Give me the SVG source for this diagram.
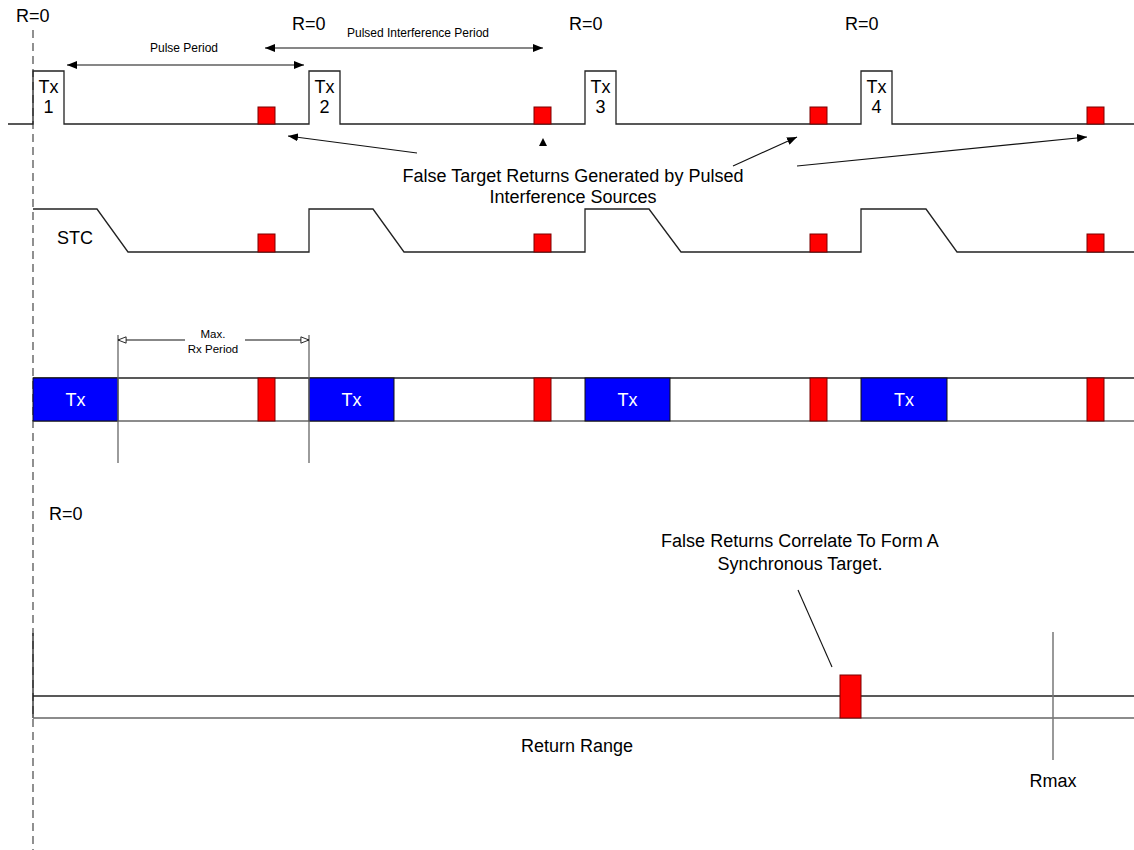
<svg xmlns="http://www.w3.org/2000/svg" width="1134" height="850" viewBox="0 0 1134 850">
<style>
text{font-family:"Liberation Sans",Arial,sans-serif;fill:#000}
.t16{font-size:18px}
.t11{font-size:12px}
.t10{font-size:11.5px}
.c{text-anchor:middle}
.ln{fill:none;stroke:#222;stroke-width:1.3}
.gr{fill:none;stroke:#666;stroke-width:1.3}
.red{fill:#ff0000;stroke:#7a0000;stroke-width:1}
.blue{fill:#0000ff;stroke:#111;stroke-width:1}
.wt{fill:#fff}
.ar{fill:none;stroke:#111;stroke-width:1.1}
</style>
<defs>
<marker id="ah" viewBox="0 0 10 8" refX="10" refY="4" markerWidth="10" markerHeight="8" markerUnits="userSpaceOnUse" orient="auto-start-reverse">
<path d="M0,0 L10,4 L0,8 Z" fill="#000"/>
</marker>
<marker id="oh" viewBox="0 0 10 8" refX="9.5" refY="4" markerWidth="9" markerHeight="8" markerUnits="userSpaceOnUse" orient="auto-start-reverse">
<path d="M0.5,0.5 L9.5,4 L0.5,7.5 Z" fill="#fff" stroke="#111" stroke-width="1"/>
</marker>
</defs>
<rect width="1134" height="850" fill="#fff"/>

<g id="r0-axis">
<line x1="33" y1="30" x2="33" y2="850" stroke="#555" stroke-width="1.3" stroke-dasharray="8,5"/>
</g>

<g id="tx-row">
<polyline class="ln" points="8,124 33,124 33,71 64,71 64,124 309,124 309,71 340,71 340,124 585,124 585,71 616,71 616,124 861,124 861,71 892,71 892,124 1134,124"/>
<text class="t16 c" x="48.5" y="92.5">Tx</text><text class="t16 c" x="48.5" y="113">1</text>
<text class="t16 c" x="324.5" y="92.5">Tx</text><text class="t16 c" x="324.5" y="113">2</text>
<text class="t16 c" x="600.5" y="92.5">Tx</text><text class="t16 c" x="600.5" y="113">3</text>
<text class="t16 c" x="876.5" y="92.5">Tx</text><text class="t16 c" x="876.5" y="113">4</text>
<rect class="red" x="258" y="107" width="17" height="17"/>
<rect class="red" x="534" y="107" width="17" height="17"/>
<rect class="red" x="810" y="107" width="17" height="17"/>
<rect class="red" x="1087" y="107" width="17" height="17"/>
</g>

<g id="r0-labels">
<text class="t16" x="16" y="22">R=0</text>
<text class="t16" x="292" y="30">R=0</text>
<text class="t16" x="569" y="30">R=0</text>
<text class="t16" x="845" y="30">R=0</text>
</g>

<g id="period-labels">
<text class="t11 c" x="184" y="52">Pulse Period</text>
<text class="t11 c" x="418" y="37">Pulsed Interference Period</text>
</g>

<g id="false-target-label">
<text class="t16 c" x="573" y="182">False Target Returns Generated by Pulsed</text>
<text class="t16 c" x="573" y="203">Interference Sources</text>
</g>

<g id="stc-row">
<polyline class="ln" points="33,209 97,209 128,252 309,252 309,209 373,209 404,252 585,252 585,209 649,209 681,252 861,252 861,209 926,209 957,252 1134,252"/>
<text class="t16" x="57" y="244">STC</text>
<rect class="red" x="258" y="234" width="17" height="18"/>
<rect class="red" x="534" y="234" width="17" height="18"/>
<rect class="red" x="810" y="234" width="17" height="18"/>
<rect class="red" x="1087" y="234" width="17" height="18"/>
</g>

<g id="rx-row">
<line class="ln" x1="33" y1="378" x2="1134" y2="378"/>
<line class="gr" x1="33" y1="421" x2="1134" y2="421"/>
<rect class="blue" x="33" y="378" width="85" height="43"/>
<rect class="blue" x="309" y="378" width="85" height="43"/>
<rect class="blue" x="585" y="378" width="85" height="43"/>
<rect class="blue" x="861" y="378" width="86" height="43"/>
<text class="t16 c wt" x="75.5" y="406">Tx</text>
<text class="t16 c wt" x="351.5" y="406">Tx</text>
<text class="t16 c wt" x="627.5" y="406">Tx</text>
<text class="t16 c wt" x="904" y="406">Tx</text>
<rect class="red" x="258" y="378" width="17" height="43"/>
<rect class="red" x="534" y="378" width="17" height="43"/>
<rect class="red" x="810" y="378" width="17" height="43"/>
<rect class="red" x="1087" y="378" width="17" height="43"/>
<line class="gr" x1="118" y1="335" x2="118" y2="463"/>
<line class="gr" x1="309" y1="335" x2="309" y2="463"/>
<text class="t10 c" x="213" y="338">Max.</text>
<text class="t10 c" x="213" y="353">Rx Period</text>
</g>

<g id="range-row">
<text class="t16" x="49" y="520">R=0</text>
<line x1="33" y1="633" x2="33" y2="718" stroke="#222" stroke-width="1.3"/>
<line class="ln" x1="33" y1="696" x2="1134" y2="696"/>
<line class="gr" x1="33" y1="718" x2="1134" y2="718"/>
<rect class="red" x="840" y="675" width="21" height="43"/>
<line x1="1053" y1="632" x2="1053" y2="760" stroke="#777" stroke-width="1.5"/>
<text class="t16 c" x="577" y="752">Return Range</text>
<text class="t16 c" x="1053" y="787">Rmax</text>
<text class="t16 c" x="800" y="547">False Returns Correlate To Form A</text>
<text class="t16 c" x="800" y="570">Synchronous Target.</text>
</g>

<g id="connectors">
<line class="ar" x1="67" y1="65" x2="304" y2="65" marker-start="url(#ah)" marker-end="url(#ah)"/>
<line class="ar" x1="265" y1="48" x2="543" y2="48" marker-start="url(#ah)" marker-end="url(#ah)"/>
<line class="ar" x1="417" y1="153" x2="288" y2="136" marker-end="url(#ah)"/>
<polygon points="543,138 539,146 547,146" fill="#000"/>
<line class="ar" x1="733" y1="166" x2="797" y2="137" marker-end="url(#ah)"/>
<line class="ar" x1="797" y1="166" x2="1087" y2="137" marker-end="url(#ah)"/>
<line class="ar" x1="118" y1="340" x2="185" y2="340" marker-start="url(#oh)"/>
<line class="ar" x1="245" y1="340" x2="309" y2="340" marker-end="url(#oh)"/>
<line class="ar" x1="798" y1="590" x2="832" y2="667"/>
</g>
</svg>
